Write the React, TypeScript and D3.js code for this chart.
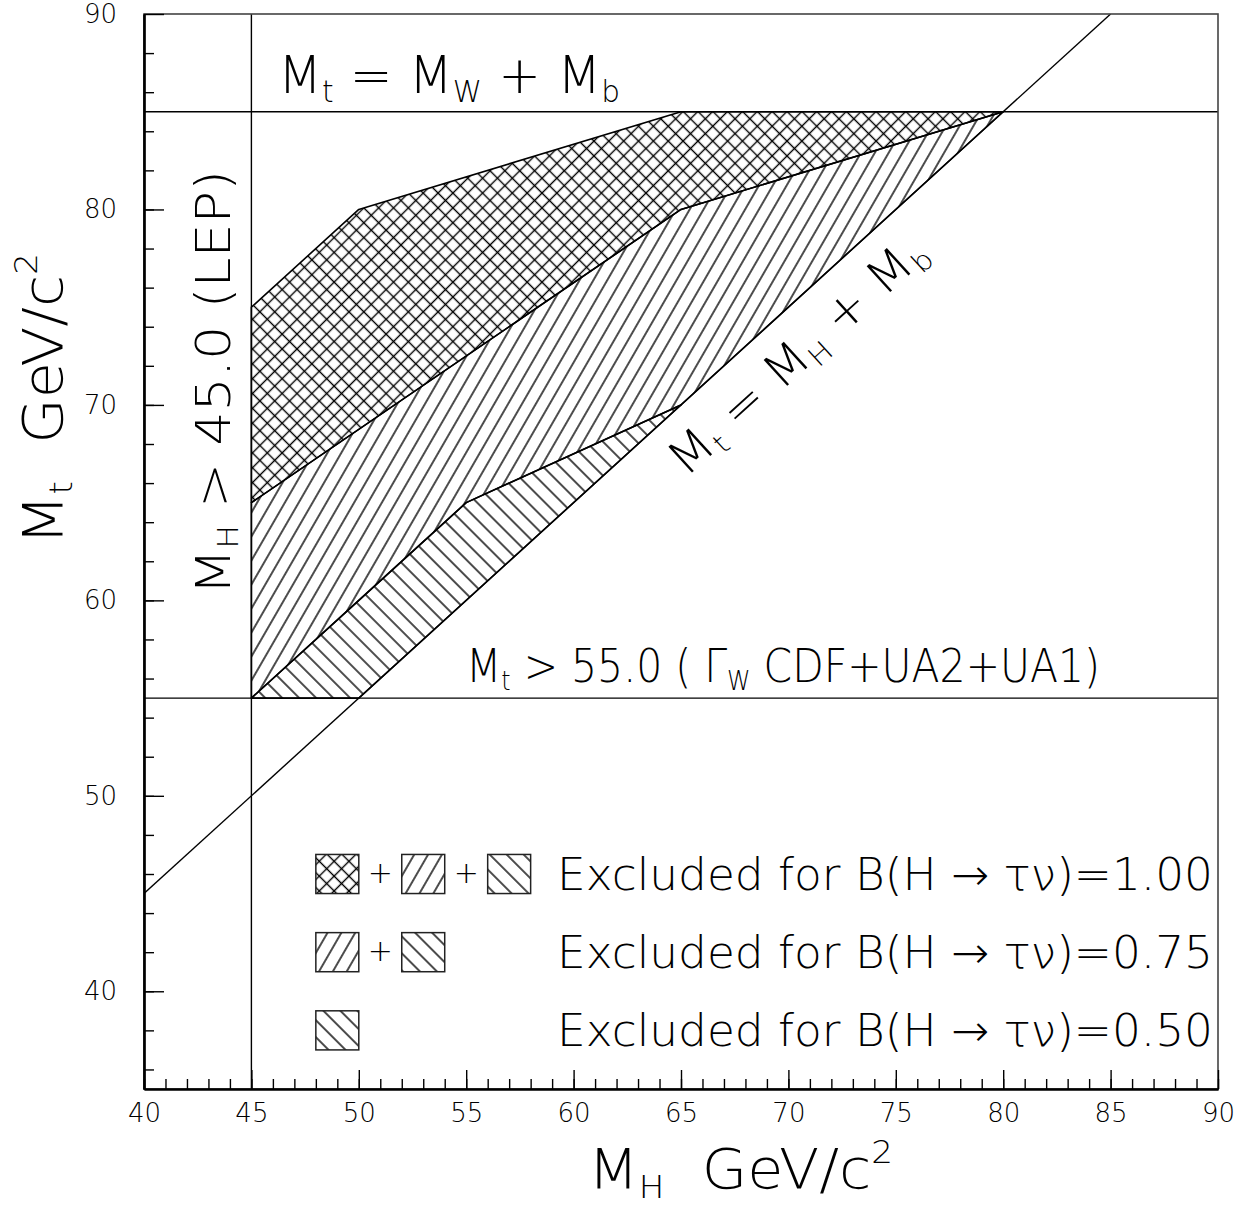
import React, { useEffect, useRef } from "react";
import * as d3 from "d3";

const width = 1243,
  height = 1207;

// axis ranges and ticks
const xDomain = [40, 90];
const yDomain = [35, 90];
const xMajorTicks = [40, 45, 50, 55, 60, 65, 70, 75, 80, 85, 90];
const xMinorTicks = d3.range(40, 91, 1);
const yMajorTicks = [40, 50, 60, 70, 80, 90];
const yMinorTicks = d3.range(36, 90, 2);

// limits
const lepLimit = 45; // M_H > 45 (LEP)
const mwPlusMb = 85; // M_t = M_W + M_b
const cdfLimit = 55; // M_t > 55
const mb = 5; // M_t = M_H + M_b

// excluded regions (M_H, M_t)
const regionB100 = [[45, 65], [45, 75], [50, 80], [65, 85], [80, 85], [65, 80]];
const regionB075 = [[45, 55], [45, 65], [65, 80], [80, 85], [65, 70], [55, 65], [50, 60]];
const regionB050 = [[45, 55], [50, 60], [55, 65], [65, 70], [50, 55]];

const legendLabels = ["1.00", "0.75", "0.50"];
const legendPatterns = [["cross", "fwd", "back"], ["fwd", "back"], ["back"]];

const FONT = "'DejaVu Sans', sans-serif";

type Part = [string, string?];

function richText(sel: any, parts: Part[], size: number) {
  let shift = 0;
  parts.forEach(([s, kind]) => {
    const target = kind === "sub" ? size * 0.17 : kind === "sup" ? -size * 0.45 : 0;
    sel.append("tspan")
      .attr("dy", target - shift)
      .attr("font-size", kind ? size * 0.58 : size)
      .text(s);
    shift = target;
  });
}

export default function App() {
  const ref = useRef<SVGSVGElement>(null);

  useEffect(() => {
    const svg = d3.select(ref.current);
    svg.selectAll("*").remove();

    const x = d3.scaleLinear().domain(xDomain).range([144, 1218]);
    const y = d3.scaleLinear().domain(yDomain).range([1089, 14]);

    const defs = svg.append("defs");
    defs.append("clipPath").attr("id", "frame")
      .append("rect")
      .attr("x", x(40)).attr("y", y(90))
      .attr("width", x(90) - x(40)).attr("height", y(35) - y(90));

    // hatch patterns
    function hatch(id: string, angle: number, gap: number, cross: boolean) {
      const p = defs.append("pattern")
        .attr("id", id)
        .attr("patternUnits", "userSpaceOnUse")
        .attr("width", gap).attr("height", gap)
        .attr("patternTransform", `rotate(${angle})`);
      p.append("line")
        .attr("x1", gap / 2).attr("y1", 0).attr("x2", gap / 2).attr("y2", gap)
        .attr("stroke", "#000").attr("stroke-width", 1.4);
      if (cross)
        p.append("line")
          .attr("x1", 0).attr("y1", gap / 2).attr("x2", gap).attr("y2", gap / 2)
          .attr("stroke", "#000").attr("stroke-width", 1.4);
    }
    hatch("cross", 45, 10.5, true);
    hatch("fwd", 30, 12, false);
    hatch("back", -45, 12, false);

    const plot = svg.append("g").attr("clip-path", "url(#frame)");

    const area = d3.line<number[]>().x(d => x(d[0])).y(d => y(d[1]));
    const regions: [number[][], string][] = [
      [regionB100, "cross"],
      [regionB075, "fwd"],
      [regionB050, "back"],
    ];
    regions.forEach(([pts, pat]) => {
      plot.append("path")
        .attr("d", area(pts) + "Z")
        .attr("fill", `url(#${pat})`)
        .attr("stroke", "#000")
        .attr("stroke-width", 1.6)
        .attr("stroke-linejoin", "round");
    });

    // limit lines
    const lines = [
      [[lepLimit, 35], [lepLimit, 90]],
      [[40, mwPlusMb], [90, mwPlusMb]],
      [[40, cdfLimit], [90, cdfLimit]],
      [[40, 40 + mb], [90 - mb, 90]],
    ];
    lines.forEach(l => {
      plot.append("path")
        .attr("d", area(l))
        .attr("fill", "none")
        .attr("stroke", "#000")
        .attr("stroke-width", 1.4);
    });

    // frame
    svg.append("rect")
      .attr("x", x(40)).attr("y", y(90))
      .attr("width", x(90) - x(40)).attr("height", y(35) - y(90))
      .attr("fill", "none").attr("stroke", "#444").attr("stroke-width", 1.6);

    // axes
    const styleAxis = (g: any) => {
      g.selectAll("line").attr("stroke", "#000").attr("stroke-width", 1.4);
      g.select(".domain").attr("stroke", "#000").attr("stroke-width", 2.2);
      g.selectAll("text")
        .attr("font-family", FONT).attr("font-weight", 200)
        .attr("font-size", 26).attr("fill", "#000");
    };
    svg.append("g").attr("transform", `translate(0,${y(35)})`)
      .call(d3.axisBottom(x).tickValues(xMinorTicks).tickSize(-10).tickSizeOuter(0).tickFormat(() => ""))
      .call(styleAxis);
    svg.append("g").attr("transform", `translate(0,${y(35)})`)
      .call(d3.axisBottom(x).tickValues(xMajorTicks).tickSize(-19).tickSizeOuter(0).tickPadding(15).tickFormat(d3.format("d")))
      .call(styleAxis);
    svg.append("g").attr("transform", `translate(${x(40)},0)`)
      .call(d3.axisLeft(y).tickValues(yMinorTicks).tickSize(-10).tickSizeOuter(0).tickFormat(() => ""))
      .call(styleAxis);
    svg.append("g").attr("transform", `translate(${x(40)},0)`)
      .call(d3.axisLeft(y).tickValues(yMajorTicks).tickSize(-20).tickSizeOuter(0).tickPadding(27).tickFormat(d3.format("d")))
      .call(styleAxis);

    const label = (tx: string, parts: Part[], size: number, len: number) => {
      const t = svg.append("text")
        .attr("transform", tx)
        .attr("font-family", FONT).attr("font-weight", 200)
        .attr("fill", "#000")
        .style("white-space", "pre")
        .attr("textLength", len)
        .attr("lengthAdjust", "spacingAndGlyphs");
      richText(t, parts, size);
      return t;
    };

    // annotations
    label(`translate(278,93)`, [["M"], ["t", "sub"], [" = M"], ["W", "sub"], [" + M"], ["b", "sub"]], 52, 342);
    label(`translate(230,595) rotate(-90)`, [["M"], ["H", "sub"], [" > 45.0 (LEP)"]], 48, 425);
    const diagAngle = Math.atan2(y(50) - y(40), x(50) - x(40)) * 180 / Math.PI;
    label(`translate(686,478) rotate(${diagAngle})`, [["M"], ["t", "sub"], [" = M"], ["H", "sub"], [" + M"], ["b", "sub"]], 48, 330);
    label(`translate(466,682)`, [["M"], ["t", "sub"], [" > 55.0 ( Γ"], ["W", "sub"], [" CDF+UA2+UA1)"]], 46, 634);

    // axis titles
    label(`translate(62,545) rotate(-90)`, [["M"], ["t", "sub"], ["  GeV/c"], ["2", "sup"]], 56, 292);
    label(`translate(588,1188)`, [["M"], ["H", "sub"], ["  GeV/c"], ["2", "sup"]], 56, 305);

    // legend
    const rowY = [46, 42, 38];
    legendLabels.forEach((lab, i) => {
      const pats = legendPatterns[i];
      pats.forEach((p, j) => {
        const x0 = 48 + j * 4;
        svg.append("rect")
          .attr("x", x(x0)).attr("y", y(rowY[i] + 1))
          .attr("width", x(x0 + 2) - x(x0)).attr("height", y(rowY[i] - 1) - y(rowY[i] + 1))
          .attr("fill", `url(#${p})`)
          .attr("stroke", "#222").attr("stroke-width", 1.5);
        if (j > 0)
          svg.append("text")
            .attr("x", x(x0 - 1)).attr("y", y(rowY[i]) + 9)
            .attr("text-anchor", "middle")
            .attr("font-family", FONT).attr("font-weight", 200)
            .attr("font-size", 30).text("+");
      });
      label(`translate(557,${y(rowY[i]) + 16})`, [["Excluded for B(H → τν)=" + lab]], 44, 656);
    });
  }, []);

  return (
    <svg
      ref={ref}
      width={width}
      height={height}
      style={{ position: "absolute", left: 0, top: 0, background: "#fff" }}
    />
  );
}
